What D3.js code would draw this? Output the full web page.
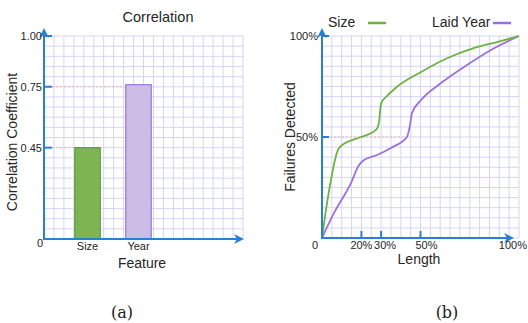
<!DOCTYPE html>
<html>
<head>
<meta charset="utf-8">
<script src="https://cdn.jsdelivr.net/npm/d3@7"></script>
<style>
  body { margin: 0; background: #fff; }
  text { font-family: "Liberation Sans", Arial, sans-serif; fill: #262626; }
  .grid line { stroke: #d6d4f7; stroke-width: 1; }
  .axis { stroke: #2a7fd4; stroke-width: 2; fill: none; }
  .guide { stroke: #f0b8a0; stroke-width: 1; stroke-dasharray: 2,2; }
</style>
</head>
<body>
<svg id="fig" width="528" height="323"></svg>
<script>
// (a) correlation bars
var features = ["Size", "Year"],
    corr = [0.45, 0.76],
    corrTicks = [0, 0.45, 0.75, 1.00],
    corrTickLabels = ["0", "0.45", "0.75", "1.00"];

// (b) failures detected vs length
var sizeX = [0, 3, 8.1, 10.2, 19.8, 27.4, 28.9, 30, 32.5, 38, 50.3, 63.5, 77, 88.8, 100],
    sizeY = [0, 20, 43.6, 46, 50, 53.5, 57, 66.8, 69.8, 74.8, 82.2, 89, 94, 97, 100];
var yearX = [0, 6.1, 14.7, 18.8, 21.3, 27.9, 35, 43.1, 44.7, 45.7, 50.3, 60.4, 72.1, 85.8, 100],
    yearY = [0, 12.4, 27.2, 36.1, 38.6, 41.1, 44.6, 50, 56, 61.9, 68.3, 76.7, 84.7, 93.1, 100];
var lenTicks = [20, 30, 50],
    lenTickLabels = ["20%", "30%", "50%"],
    failTicks = [50, 100],
    failTickLabels = ["50%", "100%"];

var svg = d3.select("#fig");
var blue = "#2a7fd4", green = "#6cb23e", purple = "#9a70de";

var defs = svg.append("defs");
defs.append("marker").attr("id", "arrow")
    .attr("viewBox", "0 0 10 10").attr("refX", 6).attr("refY", 5)
    .attr("markerWidth", 5).attr("markerHeight", 5).attr("orient", "auto")
  .append("path").attr("d", "M0,0 L10,5 L0,10 L3,5 Z").attr("fill", blue);

function grid(g, x0, x1, y0, y1, n) {
  var gg = g.append("g").attr("class", "grid");
  d3.range(n + 1).forEach(function(i) {
    var x = x0 + (x1 - x0) * i / n, y = y0 + (y1 - y0) * i / n;
    gg.append("line").attr("x1", x).attr("x2", x).attr("y1", y0).attr("y2", y1);
    gg.append("line").attr("x1", x0).attr("x2", x1).attr("y1", y).attr("y2", y);
  });
}

// ---------- (a) ----------
var ya = d3.scaleLinear().domain([0, 1]).range([239, 36]);
var xa = d3.scaleBand().domain(features).range([62, 164]).paddingInner(0.5).paddingOuter(0.25);
var ga = svg.append("g");
grid(ga, 44, 243, 36, 239, 20);

ga.selectAll(".guide").data([0.45, 0.75]).enter().append("line")
    .attr("class", "guide")
    .attr("x1", 44).attr("y1", function(d) { return ya(d); })
    .attr("x2", function(d, i) { return xa(features[i]); })
    .attr("y2", function(d) { return ya(d); });

ga.selectAll(".bar").data(corr).enter().append("rect")
    .attr("x", function(d, i) { return xa(features[i]); })
    .attr("y", function(d) { return ya(d); })
    .attr("width", xa.bandwidth())
    .attr("height", function(d) { return ya(0) - ya(d); })
    .attr("fill", function(d, i) { return i ? "#cbbde6" : "#7db553"; })
    .attr("stroke", function(d, i) { return i ? "#9a72dc" : "#5f9c3c"; })
    .attr("stroke-width", 1.2);

ga.append("line").attr("class", "axis").attr("x1", 44).attr("y1", 239).attr("x2", 44).attr("y2", 32)
    .attr("marker-end", "url(#arrow)");
ga.append("line").attr("class", "axis").attr("x1", 43).attr("y1", 239).attr("x2", 240).attr("y2", 239)
    .attr("marker-end", "url(#arrow)");

ga.selectAll(".ytk").data(corrTicks.slice(1)).enter().append("line")
    .attr("x1", 44).attr("x2", 52)
    .attr("y1", function(d) { return ya(d); }).attr("y2", function(d) { return ya(d); })
    .attr("stroke", blue).attr("stroke-width", 2);
ga.selectAll(".ylab").data(corrTicks).enter().append("text")
    .attr("x", function(d, i) { return i ? 42 : 43; })
    .attr("y", function(d) { return ya(d) + (d ? 4 : 8); })
    .attr("text-anchor", "end").attr("font-size", 11)
    .text(function(d, i) { return corrTickLabels[i]; });
ga.selectAll(".xlab").data(features).enter().append("text")
    .attr("x", function(d) { return xa(d) + xa.bandwidth() / 2; })
    .attr("y", 250).attr("text-anchor", "middle").attr("font-size", 11)
    .text(function(d) { return d; });

ga.append("text").attr("x", 158).attr("y", 22).attr("text-anchor", "middle").attr("font-size", 14.5).text("Correlation");
ga.append("text").attr("x", 142).attr("y", 268).attr("text-anchor", "middle").attr("font-size", 14).text("Feature");
ga.append("text").attr("transform", "translate(17,142) rotate(-90)").attr("text-anchor", "middle")
    .attr("font-size", 14).text("Correlation Coefficient");

// ---------- (b) ----------
var xb = d3.scaleLinear().domain([0, 100]).range([322, 519]);
var yb = d3.scaleLinear().domain([0, 100]).range([238, 36]);
var gb = svg.append("g");
grid(gb, 322, 519, 36, 238, 20);

gb.append("line").attr("class", "guide")
    .attr("x1", xb(0)).attr("x2", xb(43.1)).attr("y1", yb(50)).attr("y2", yb(50));

var line = d3.line().curve(d3.curveMonotoneX)
    .x(function(d) { return xb(d[0]); }).y(function(d) { return yb(d[1]); });
gb.append("path").attr("d", line(d3.zip(yearX, yearY)))
    .attr("fill", "none").attr("stroke", purple).attr("stroke-width", 1.8);
gb.append("path").attr("d", line(d3.zip(sizeX, sizeY)))
    .attr("fill", "none").attr("stroke", green).attr("stroke-width", 1.8);

gb.append("line").attr("class", "axis").attr("x1", 322).attr("y1", 238).attr("x2", 322).attr("y2", 32)
    .attr("marker-end", "url(#arrow)");
gb.append("line").attr("class", "axis").attr("x1", 321).attr("y1", 238).attr("x2", 510).attr("y2", 238)
    .attr("marker-end", "url(#arrow)");

gb.selectAll(".xtk").data(lenTicks).enter().append("line")
    .attr("x1", function(d) { return xb(d); }).attr("x2", function(d) { return xb(d); })
    .attr("y1", 238).attr("y2", 231).attr("stroke", blue).attr("stroke-width", 2);
gb.selectAll(".ytk").data(failTicks).enter().append("line")
    .attr("x1", 322).attr("x2", 329)
    .attr("y1", function(d) { return yb(d); }).attr("y2", function(d) { return yb(d); })
    .attr("stroke", blue).attr("stroke-width", 2);

gb.selectAll(".xlab").data(lenTicks).enter().append("text")
    .attr("x", function(d, i) { return xb(d) + [0, 4, 6][i]; })
    .attr("y", 249).attr("text-anchor", "middle").attr("font-size", 11)
    .text(function(d, i) { return lenTickLabels[i]; });
gb.append("text").attr("x", 527).attr("y", 249).attr("text-anchor", "end").attr("font-size", 11).text("100%");
gb.append("text").attr("x", 318).attr("y", 249).attr("text-anchor", "end").attr("font-size", 11).text("0");
gb.selectAll(".ylab").data(failTicks).enter().append("text")
    .attr("x", 318).attr("y", function(d) { return yb(d) + 4; })
    .attr("text-anchor", "end").attr("font-size", 11)
    .text(function(d, i) { return failTickLabels[i]; });

gb.append("text").attr("x", 419).attr("y", 264).attr("text-anchor", "middle").attr("font-size", 14).text("Length");
gb.append("text").attr("transform", "translate(295,137) rotate(-90)").attr("text-anchor", "middle")
    .attr("font-size", 14).text("Failures Detected");

// legend
gb.append("text").attr("x", 328).attr("y", 27).attr("font-size", 14).text("Size");
gb.append("line").attr("x1", 368).attr("x2", 386).attr("y1", 23).attr("y2", 23).attr("stroke", green).attr("stroke-width", 2.5);
gb.append("text").attr("x", 432).attr("y", 27).attr("font-size", 14).text("Laid Year");
gb.append("line").attr("x1", 493).attr("x2", 511).attr("y1", 23).attr("y2", 23).attr("stroke", purple).attr("stroke-width", 2.5);

// captions
svg.append("text").attr("x", 122).attr("y", 318).attr("text-anchor", "middle")
    .attr("font-size", 16).style("font-family", "'DejaVu Serif', serif").style("fill", "#222").text("(a)");
svg.append("text").attr("x", 447).attr("y", 318).attr("text-anchor", "middle")
    .attr("font-size", 16).style("font-family", "'DejaVu Serif', serif").style("fill", "#222").text("(b)");
</script>
</body>
</html>
